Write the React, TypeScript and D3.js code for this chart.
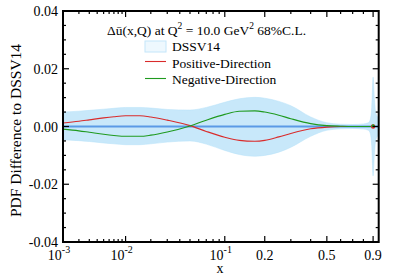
import React from "react";
import * as d3 from "d3";

// sample points along x
const xs = [0.001, 0.002, 0.003, 0.005, 0.007, 0.01, 0.015, 0.02, 0.03, 0.05, 0.07, 0.1, 0.13, 0.17, 0.2, 0.25, 0.3, 0.4, 0.5, 0.6, 0.7, 0.8, 0.85, 0.87, 0.885, 0.9, 0.915, 0.93, 0.962];

// DSSV14 68% band
const bandUpper = [0.005, 0.0053, 0.0056, 0.006, 0.0063, 0.0066, 0.0066, 0.0064, 0.0059, 0.0057, 0.0066, 0.0084, 0.0096, 0.0101, 0.0098, 0.0087, 0.0072, 0.0033, 0.0013, 0.0008, 0.0007, 0.0009, 0.0013, 0.0024, 0.0065, 0.0171, 0.009, 0.0045, 0.003];
const bandLower = [-0.0046, -0.0049, -0.0052, -0.0057, -0.006, -0.0063, -0.0063, -0.006, -0.0054, -0.005, -0.0061, -0.0083, -0.0097, -0.0103, -0.01, -0.0089, -0.0072, -0.0034, -0.0013, -0.0008, -0.0007, -0.0009, -0.0013, -0.0024, -0.0065, -0.0171, -0.009, -0.0045, -0.003];

const positiveDir = [0.0012, 0.0018, 0.0023, 0.003, 0.0034, 0.0037, 0.0037, 0.0033, 0.0022, 0.0003, -0.0017, -0.0037, -0.0048, -0.0051, -0.0048, -0.0036, -0.0024, -0.0008, -0.0002, 0, 0, 0, 0, 0, 0, 0, 0, 0, 0];
const negativeDir = [-0.0009, -0.0015, -0.002, -0.0027, -0.0031, -0.0034, -0.0034, -0.003, -0.0019, 0.0002, 0.0022, 0.0042, 0.0053, 0.0054, 0.005, 0.0039, 0.0027, 0.001, 0.0003, 0.0001, 0, 0, 0, 0, 0, 0, 0, 0, 0];

// axes
const xMajor = [0.001, 0.01, 0.1, 0.2, 0.5, 0.9];
const xMajorLabels = [["10", "-3"], ["10", "-2"], ["10", "-1"], ["0.2", ""], ["0.5", ""], ["0.9", ""]];
const xMinor = [0.002, 0.003, 0.004, 0.005, 0.006, 0.007, 0.008, 0.009, 0.02, 0.03, 0.04, 0.05, 0.06, 0.07, 0.08, 0.09, 0.3, 0.4, 0.6, 0.7, 0.8];
const yMajor = [-0.04, -0.02, 0, 0.02, 0.04];
const yMajorLabels = ["-0.04", "-0.02", "0.00", "0.02", "0.04"];
const yMinor = [-0.035, -0.03, -0.025, -0.015, -0.01, -0.005, 0.005, 0.01, 0.015, 0.025, 0.03, 0.035];

const legendLabels = ["DSSV14", "Positive-Direction", "Negative-Direction"];

const W = 395, H = 276;
const left = 63, right = 378.7, top = 11, bottom = 242;
const font = "'Liberation Serif', 'Times New Roman', serif";

export default function App() {
  const x = d3.scalePow().exponent(0.2).domain([0.001, 0.962]).range([left, right]);
  const y = d3.scaleLinear().domain([-0.04, 0.04]).range([bottom, top]);

  const idx = xs.map((_, i) => i);
  const area = d3.area<number>()
    .x((i) => x(xs[i]))
    .y0((i) => y(bandLower[i]))
    .y1((i) => y(bandUpper[i]))
    .curve(d3.curveMonotoneX);
  const line = (vals: number[]) =>
    d3.line<number>().x((i) => x(xs[i])).y((i) => y(vals[i])).curve(d3.curveMonotoneX)(idx) || "";

  return (
    <svg width={W} height={H} style={{ position: "absolute", left: 0, top: 0 }} fontFamily={font}>
      <rect x={0} y={0} width={W} height={H} fill="white" />
      <path d={area(idx) || ""} fill="#c8e8fa" stroke="#b5e0f8" strokeWidth={0.5} />
      <line x1={left} x2={right} y1={y(0)} y2={y(0)} stroke="#5a9ae6" strokeWidth={2} />
      <path d={line(positiveDir)} fill="none" stroke="#d92b2b" strokeWidth={1.1} />
      <path d={line(negativeDir)} fill="none" stroke="#1f9a1f" strokeWidth={1.1} />
      <circle cx={x(0.9)} cy={y(0)} r={2.2} fill="#d92b2b" />
      <circle cx={x(0.9)} cy={y(0) - 0.8} r={1.5} fill="#1f9a1f" />

      {/* ticks */}
      <g stroke="black" strokeWidth={1.2}>
        {xMajor.map((v) => (
          <g key={"xM" + v}>
            <line x1={x(v)} x2={x(v)} y1={bottom} y2={bottom - 6} />
            <line x1={x(v)} x2={x(v)} y1={top} y2={top + 6} />
          </g>
        ))}
        {xMinor.map((v) => (
          <g key={"xm" + v}>
            <line x1={x(v)} x2={x(v)} y1={bottom} y2={bottom - 3} />
            <line x1={x(v)} x2={x(v)} y1={top} y2={top + 3} />
          </g>
        ))}
        {yMajor.map((v) => (
          <g key={"yM" + v}>
            <line x1={left} x2={left + 6} y1={y(v)} y2={y(v)} />
            <line x1={right} x2={right - 6} y1={y(v)} y2={y(v)} />
          </g>
        ))}
        {yMinor.map((v) => (
          <g key={"ym" + v}>
            <line x1={left} x2={left + 3} y1={y(v)} y2={y(v)} />
            <line x1={right} x2={right - 3} y1={y(v)} y2={y(v)} />
          </g>
        ))}
      </g>
      <rect x={left} y={top} width={right - left} height={bottom - top} fill="none" stroke="black" strokeWidth={2} />

      {/* tick labels */}
      {yMajor.map((v, i) => (
        <text key={"yl" + v} x={58} y={y(v) + 5} fontSize={14} textAnchor="end">{yMajorLabels[i]}</text>
      ))}
      {xMajor.map((v, i) => (
        <text key={"xl" + v} x={x(v) - (xMajorLabels[i][1] ? 4 : 0)} y={260} fontSize={14} textAnchor="middle">
          {xMajorLabels[i][0]}
          {xMajorLabels[i][1] && (
            <tspan dy={-7} fontSize={10}>{xMajorLabels[i][1]}</tspan>
          )}
        </text>
      ))}
      <text x={220} y={273} fontSize={14} textAnchor="middle">x</text>
      <text transform={`translate(21,${(top + bottom) / 2 + 4}) rotate(-90)`} fontSize={15.5} textAnchor="middle">
        PDF Difference to DSSV14
      </text>

      {/* legend */}
      <text x={107} y={35} fontSize={13.5}>
        Δū(x,Q) at Q<tspan dy={-6} fontSize={9.5}>2</tspan>
        <tspan dy={6}> = 10.0 GeV</tspan><tspan dy={-6} fontSize={9.5}>2</tspan>
        <tspan dy={6}> 68%C.L.</tspan>
      </text>
      <rect x={145} y={41} width={21} height={11} fill="#eef8fe" stroke="#c4e6fa" strokeWidth={1} />
      <line x1={145} x2={166} y1={61.5} y2={61.5} stroke="#d92b2b" strokeWidth={1.1} />
      <line x1={145} x2={166} y1={78.5} y2={78.5} stroke="#1f9a1f" strokeWidth={1.1} />
      {legendLabels.map((t, i) => (
        <text key={t} x={172} y={51 + i * 16.5} fontSize={13.5}>{t}</text>
      ))}
    </svg>
  );
}
